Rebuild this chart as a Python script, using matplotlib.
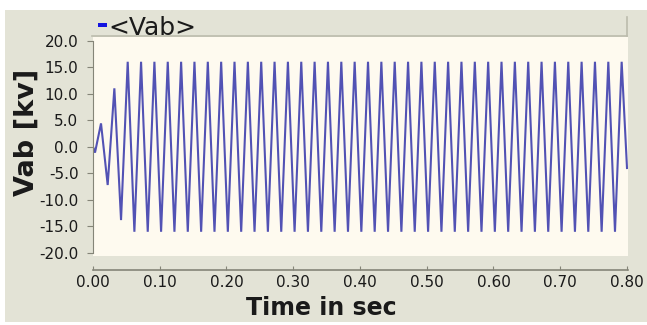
import matplotlib.pyplot as plt
from matplotlib.patches import Rectangle
from matplotlib.lines import Line2D

# Extrema of the Vab waveform (time in s, value in kV)
t_vab = [0.000, 0.003,
         0.012, 0.022, 0.032, 0.042, 0.052, 0.062, 0.072, 0.082, 0.092, 0.102,
         0.112, 0.122, 0.132, 0.142, 0.152, 0.162, 0.172, 0.182, 0.192, 0.202,
         0.212, 0.222, 0.232, 0.242, 0.252, 0.262, 0.272, 0.282, 0.292, 0.302,
         0.312, 0.322, 0.332, 0.342, 0.352, 0.362, 0.372, 0.382, 0.392, 0.402,
         0.412, 0.422, 0.432, 0.442, 0.452, 0.462, 0.472, 0.482, 0.492, 0.502,
         0.512, 0.522, 0.532, 0.542, 0.552, 0.562, 0.572, 0.582, 0.592, 0.602,
         0.612, 0.622, 0.632, 0.642, 0.652, 0.662, 0.672, 0.682, 0.692, 0.702,
         0.712, 0.722, 0.732, 0.742, 0.752, 0.762, 0.772, 0.782, 0.792,
         0.800]
v_vab = [0.0, -1.1,
         4.4, -7.2, 11.0, -13.8, 16.0, -16.0, 16.0, -16.0, 16.0, -16.0,
         16.0, -16.0, 16.0, -16.0, 16.0, -16.0, 16.0, -16.0, 16.0, -16.0,
         16.0, -16.0, 16.0, -16.0, 16.0, -16.0, 16.0, -16.0, 16.0, -16.0,
         16.0, -16.0, 16.0, -16.0, 16.0, -16.0, 16.0, -16.0, 16.0, -16.0,
         16.0, -16.0, 16.0, -16.0, 16.0, -16.0, 16.0, -16.0, 16.0, -16.0,
         16.0, -16.0, 16.0, -16.0, 16.0, -16.0, 16.0, -16.0, 16.0, -16.0,
         16.0, -16.0, 16.0, -16.0, 16.0, -16.0, 16.0, -16.0, 16.0, -16.0,
         16.0, -16.0, 16.0, -16.0, 16.0, -16.0, 16.0, -16.0, 16.0,
         -4.0]

y_ticks = [20.0, 15.0, 10.0, 5.0, 0.0, -5.0, -10.0, -15.0, -20.0]
x_ticks = [0.00, 0.10, 0.20, 0.30, 0.40, 0.50, 0.60, 0.70, 0.80]

W, H = 647, 325
GREY = '#e3e3d6'
CREAM = '#fefaef'
AXCOL = '#858578'
TXT = '#1a1a1a'

fig = plt.figure(figsize=(W / 100, H / 100), dpi=100, facecolor='white')

# grey panel behind everything
fig.patches.append(Rectangle((5 / W, 1 - 322 / H), 642 / W, 312 / H,
                             transform=fig.transFigure, facecolor=GREY,
                             edgecolor='none', zorder=-5))

ax = fig.add_axes([93 / W, 1 - 256 / H, 535 / W, 219 / H])
ax.set_zorder(2)
ax.set_facecolor(CREAM)
ax.plot(t_vab, v_vab, color='#5252b4', lw=1.5, solid_joinstyle='miter')

ax.set_xlim(0, 0.8015)
ax.set_ylim(-20.56, 20.66)

for s in ['top', 'right']:
    ax.spines[s].set_visible(False)
ax.spines['left'].set_color(AXCOL)
ax.spines['left'].set_bounds(-20, 20)
ax.spines['bottom'].set_color(AXCOL)
ax.spines['bottom'].set_position(('outward', 10))
ax.spines['bottom'].set_linewidth(1.2)

ax.set_yticks(y_ticks)
ax.set_yticklabels(['%.1f' % v for v in y_ticks])
ax.set_xticks(x_ticks)
ax.set_xticklabels(['%.2f' % v for v in x_ticks])
ax.tick_params(axis='y', direction='out', length=4, width=0.8, color=AXCOL,
               pad=6.5, labelsize=11, labelcolor=TXT)
ax.tick_params(axis='x', direction='in', length=3, width=0.8, color=AXCOL,
               pad=4, labelsize=11, labelcolor=TXT)

# legend strip at the top
fig.lines.append(Line2D([92 / W, 627 / W], [1 - 36 / H, 1 - 36 / H],
                        transform=fig.transFigure, color='#bcbcad', lw=1.2))
fig.lines.append(Line2D([627 / W, 627 / W], [1 - 17 / H, 1 - 36 / H],
                        transform=fig.transFigure, color='#bcbcad', lw=1.2))
fig.patches.append(Rectangle((98 / W, 1 - 27 / H), 9 / W, 4 / H,
                             transform=fig.transFigure, facecolor='#1414e0',
                             edgecolor='none'))
fig.text(108 / W, 1 - 35 / H, '<Vab>', fontsize=18, color=TXT,
         ha='left', va='baseline')

fig.text(27 / W, 1 - 132 / H, 'Vab [kv]', fontsize=19.5, fontweight='bold',
         rotation=90, ha='center', va='center', color=TXT)
fig.text(321 / W, 1 - 315 / H, 'Time in sec', fontsize=17, fontweight='bold',
         ha='center', va='baseline', color=TXT)

fig.savefig('out.png', dpi=100, facecolor='white')
